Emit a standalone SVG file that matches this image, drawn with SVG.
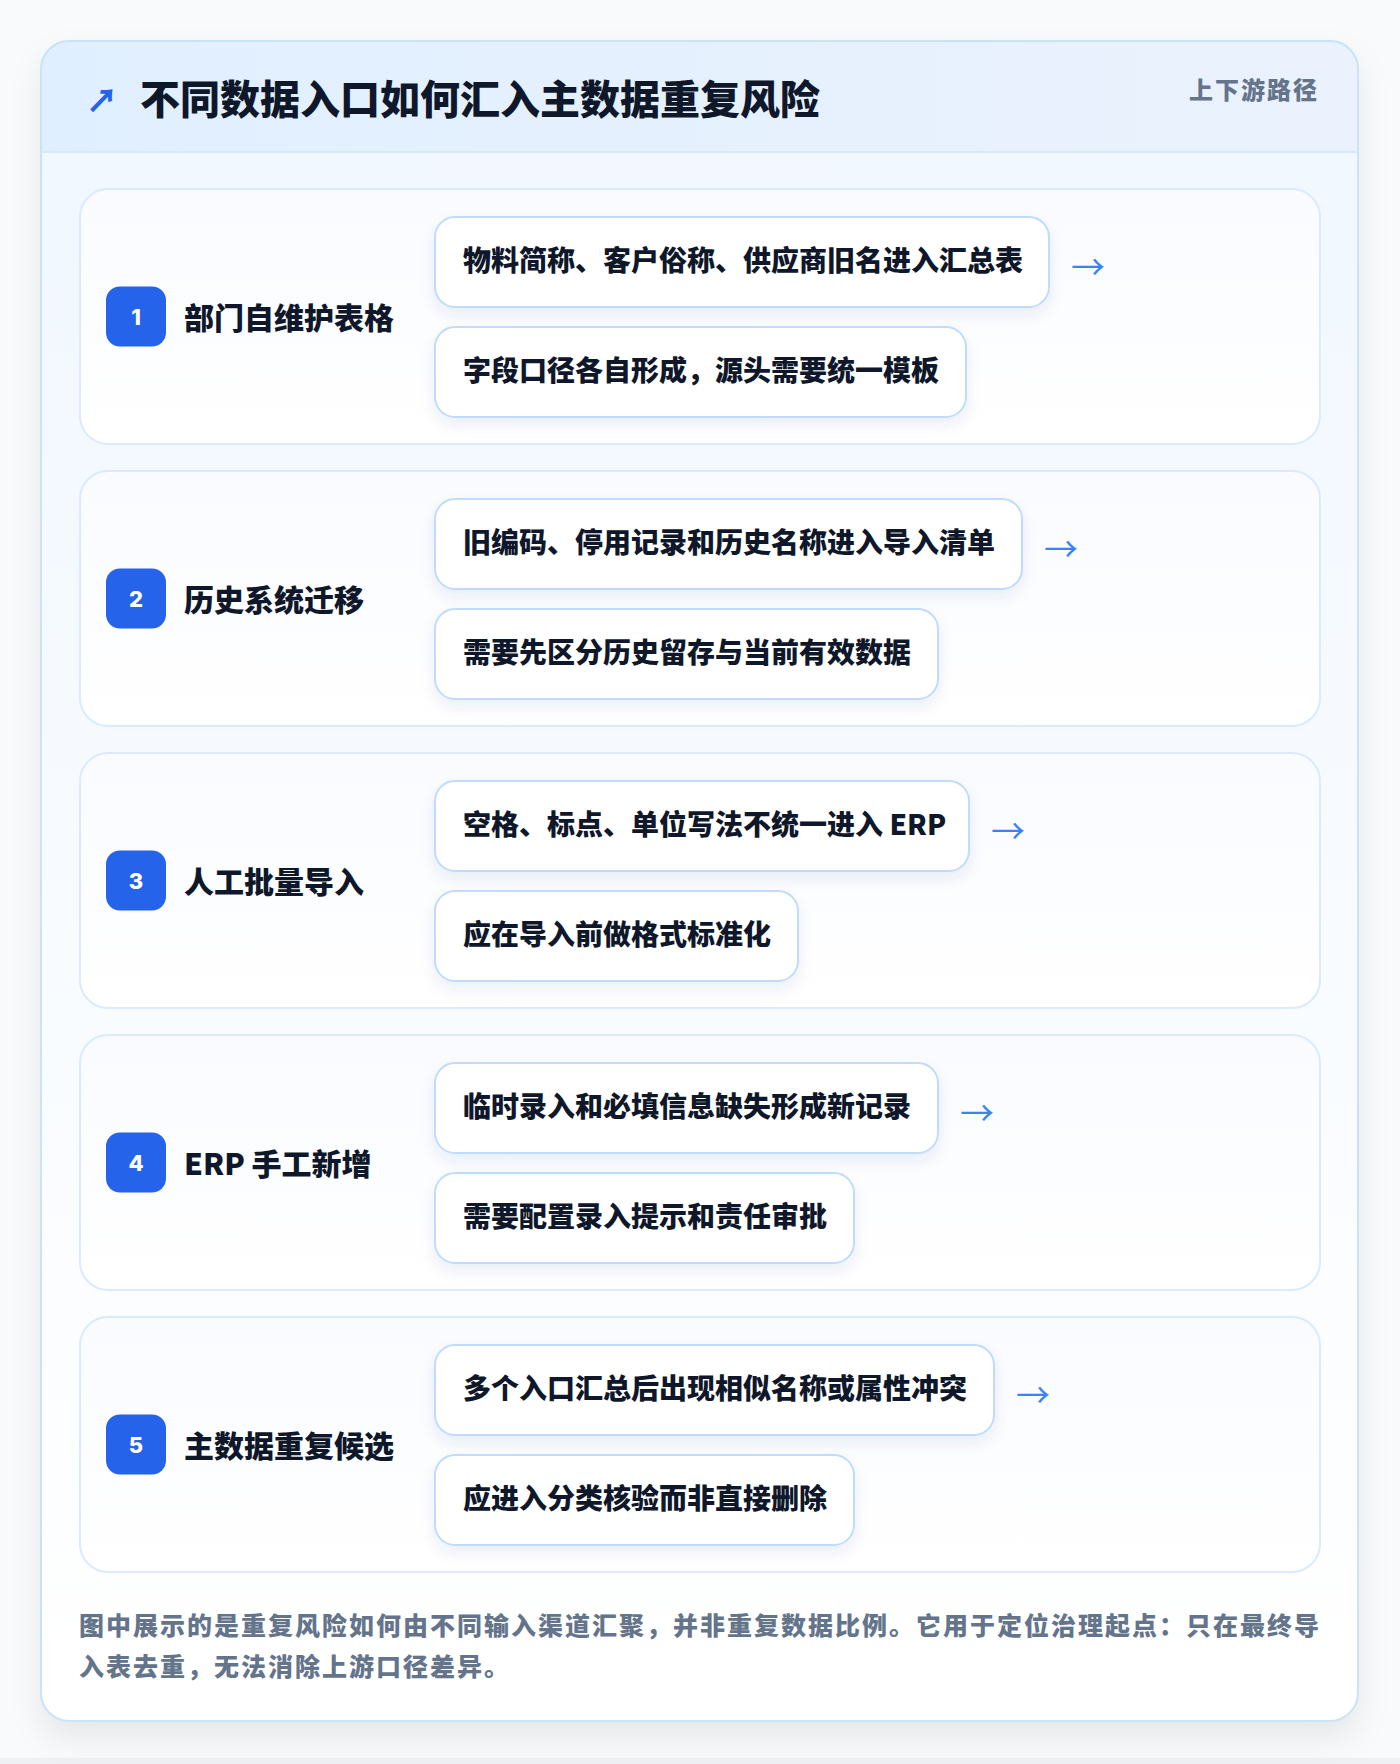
<svg xmlns="http://www.w3.org/2000/svg" width="1400" height="1764" viewBox="0 0 1400 1764">
<style>
.cjk{font-family:"Noto Sans CJK SC","Noto Sans",sans-serif}
.title{font-size:40px;font-weight:900;fill:#0f172a}
.tag{font-size:24px;font-weight:900;fill:#64748b;letter-spacing:2px}
.card{fill:url(#cardGrad);stroke:#dbeafe;stroke-width:2}
.badge{fill:#2563eb}
.num{font-family:"Inter","Noto Sans",sans-serif;font-size:22px;font-weight:800;fill:#ffffff;text-anchor:middle}
.label{font-size:30px;font-weight:900;fill:#0f172a}
.pill{fill:#ffffff;stroke:#bfdbfe;stroke-width:2;filter:url(#pillShadow)}
.ptext{font-size:28px;font-weight:900;fill:#0f172a}
.arrow{font-size:34px;font-weight:400;fill:#3b82f6}
.foot{font-size:25px;font-weight:900;fill:#64748b;letter-spacing:2px}
</style>
<defs>
<linearGradient id="bodyGrad" x1="0" y1="0" x2="0" y2="1">
<stop offset="0" stop-color="#f0f7ff"/>
<stop offset="1" stop-color="#ffffff"/>
</linearGradient>
<linearGradient id="headGrad" x1="0" y1="0" x2="1" y2="0">
<stop offset="0" stop-color="#e0efff"/>
<stop offset="1" stop-color="#ebf2fd"/>
</linearGradient>
<linearGradient id="cardGrad" x1="0" y1="0" x2="0" y2="1">
<stop offset="0" stop-color="#f9fbff"/>
<stop offset="1" stop-color="#ffffff"/>
</linearGradient>
<filter id="outerShadow" x="-10%" y="-10%" width="120%" height="120%">
<feDropShadow dx="0" dy="16" stdDeviation="16" flood-color="#0f172a" flood-opacity="0.08"/>
</filter>
<filter id="pillShadow" x="-10%" y="-30%" width="120%" height="170%">
<feDropShadow dx="0" dy="7" stdDeviation="7" flood-color="#1e3a8a" flood-opacity="0.08"/>
</filter>
<clipPath id="outerClip">
<rect x="41" y="41" width="1317" height="1680" rx="28"/>
</clipPath>
</defs>

<rect x="0" y="0" width="1400" height="1764" fill="#f9fafb"/>
<rect x="0" y="1758" width="1400" height="6" fill="#eef0f4"/>

<g id="frame">
<rect x="41" y="41" width="1317" height="1680" rx="28" fill="url(#bodyGrad)" filter="url(#outerShadow)"/>
<g clip-path="url(#outerClip)">
<rect x="41" y="41" width="1317" height="111" fill="url(#headGrad)"/>
<line x1="41" y1="152" x2="1358" y2="152" stroke="#d6e8fb" stroke-width="2"/>
</g>
<rect x="41" y="41" width="1317" height="1680" rx="28" fill="none" stroke="#c9e3f7" stroke-width="2"/>
</g>

<g id="header">
<text class="cjk" x="86" y="112" font-size="32" font-weight="900" fill="#2563eb">↗</text>
<text class="cjk title" x="140" y="114">不同数据入口如何汇入主数据重复风险</text>
<text class="cjk tag" x="1189" y="99">上下游路径</text>
</g>

<g id="node1">
<rect class="card" x="80" y="189" width="1240" height="255" rx="28"/>
<rect class="badge" x="106" y="286.5" width="60" height="60" rx="14"/>
<text class="num" x="136" y="325">1</text>
<text class="cjk label" x="184" y="329">部门自维护表格</text>
<rect class="pill" x="435" y="217" width="614" height="90" rx="20"/>
<text class="cjk ptext" x="463" y="271">物料简称、客户俗称、供应商旧名进入汇总表</text>
<rect class="pill" x="435" y="327" width="531" height="90" rx="20"/>
<text class="cjk ptext" x="463" y="381">字段口径各自形成，源头需要统一模板</text>
</g>

<g id="node2">
<rect class="card" x="80" y="471" width="1240" height="255" rx="28"/>
<rect class="badge" x="106" y="568.5" width="60" height="60" rx="14"/>
<text class="num" x="136" y="607">2</text>
<text class="cjk label" x="184" y="611">历史系统迁移</text>
<rect class="pill" x="435" y="499" width="587" height="90" rx="20"/>
<text class="cjk ptext" x="463" y="553">旧编码、停用记录和历史名称进入导入清单</text>
<rect class="pill" x="435" y="609" width="503" height="90" rx="20"/>
<text class="cjk ptext" x="463" y="663">需要先区分历史留存与当前有效数据</text>
</g>

<g id="node3">
<rect class="card" x="80" y="753" width="1240" height="255" rx="28"/>
<rect class="badge" x="106" y="850.5" width="60" height="60" rx="14"/>
<text class="num" x="136" y="889">3</text>
<text class="cjk label" x="184" y="893">人工批量导入</text>
<rect class="pill" x="435" y="781" width="534" height="90" rx="20"/>
<text class="cjk ptext" x="463" y="835">空格、标点、单位写法不统一进入 ERP</text>
<rect class="pill" x="435" y="891" width="363" height="90" rx="20"/>
<text class="cjk ptext" x="463" y="945">应在导入前做格式标准化</text>
</g>

<g id="node4">
<rect class="card" x="80" y="1035" width="1240" height="255" rx="28"/>
<rect class="badge" x="106" y="1132.5" width="60" height="60" rx="14"/>
<text class="num" x="136" y="1171">4</text>
<text class="cjk label" x="184" y="1175">ERP 手工新增</text>
<rect class="pill" x="435" y="1063" width="503" height="90" rx="20"/>
<text class="cjk ptext" x="463" y="1117">临时录入和必填信息缺失形成新记录</text>
<rect class="pill" x="435" y="1173" width="419" height="90" rx="20"/>
<text class="cjk ptext" x="463" y="1227">需要配置录入提示和责任审批</text>
</g>

<g id="node5">
<rect class="card" x="80" y="1317" width="1240" height="255" rx="28"/>
<rect class="badge" x="106" y="1414.5" width="60" height="60" rx="14"/>
<text class="num" x="136" y="1453">5</text>
<text class="cjk label" x="184" y="1457">主数据重复候选</text>
<rect class="pill" x="435" y="1345" width="559" height="90" rx="20"/>
<text class="cjk ptext" x="463" y="1399">多个入口汇总后出现相似名称或属性冲突</text>
<rect class="pill" x="435" y="1455" width="419" height="90" rx="20"/>
<text class="cjk ptext" x="463" y="1509">应进入分类核验而非直接删除</text>
</g>

<g id="connectors">
<text class="cjk arrow" x="1071" y="280">→</text>
<text class="cjk arrow" x="1044" y="562">→</text>
<text class="cjk arrow" x="991" y="844">→</text>
<text class="cjk arrow" x="960" y="1126">→</text>
<text class="cjk arrow" x="1016" y="1408">→</text>
</g>

<g id="footer">
<text class="cjk foot" x="79" y="1635">图中展示的是重复风险如何由不同输入渠道汇聚，并非重复数据比例。它用于定位治理起点：只在最终导</text>
<text class="cjk foot" x="79" y="1676">入表去重，无法消除上游口径差异。</text>
</g>
</svg>
